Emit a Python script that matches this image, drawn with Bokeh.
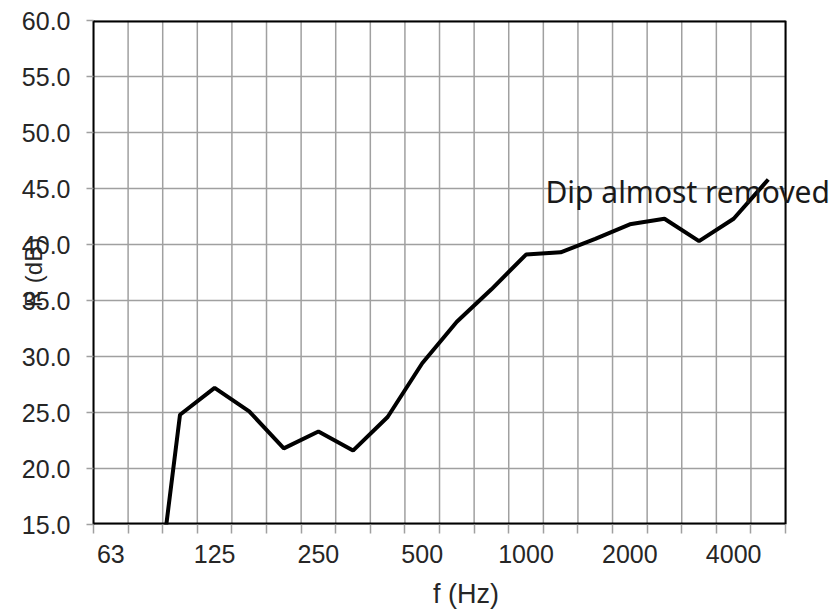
import numpy as np
from bokeh.plotting import figure
from bokeh.models import FixedTicker, Label, Range1d, NumeralTickFormatter, ColumnDataSource
from bokeh.embed import file_html
from bokeh.resources import INLINE

# 1/3-octave bands shown on the x axis
bands = ["63", "80", "100", "125", "160", "200", "250", "315", "400", "500",
         "630", "800", "1000", "1250", "1600", "2000", "2500", "3150", "4000", "5000"]
tick_labels = ["63", "125", "250", "500", "1000", "2000", "4000"]

# measured sound reduction index
freqs = ["80", "100", "125", "160", "200", "250", "315", "400", "500", "630",
         "800", "1000", "1250", "1600", "2000", "2500", "3150", "4000", "5000"]
r_db = [0.0, 24.8, 27.2, 25.1, 21.8, 23.3, 21.6, 24.6, 29.4, 33.1,
        36.0, 39.1, 39.3, 40.5, 41.8, 42.3, 40.3, 42.3, 45.8]

y_ticks = [15, 20, 25, 30, 35, 40, 45, 50, 55, 60]

xi = [bands.index(f) for f in freqs]
src = ColumnDataSource(dict(x=xi, y=r_db))

n = len(bands)
y_lo, y_hi = y_ticks[0], y_ticks[-1]
x_lo, x_hi = -0.5, n - 0.5
# frame runs on to the right canvas edge so the annotation is not clipped
x_extra = 1.53

p = figure(width=838, height=611, output_backend="svg", toolbar_location=None,
           x_range=Range1d(x_lo, x_hi + x_extra), y_range=Range1d(y_lo, y_hi),
           min_border_left=93, min_border_right=0, min_border_top=20, min_border_bottom=87)
p.background_fill_color = "white"
p.border_fill_color = "white"
p.outline_line_color = None
p.xgrid.grid_line_color = None
p.ygrid.grid_line_color = None

edges = [i - 0.5 for i in range(n + 1)]
centers = [bands.index(t) for t in tick_labels]

grid_col = "#a0a0a0"
# grid inside the plotting box only
p.segment(x0=edges, y0=[y_lo] * len(edges), x1=edges, y1=[y_hi] * len(edges),
          line_color=grid_col, line_width=1.5)
p.segment(x0=[x_lo] * len(y_ticks), y0=y_ticks, x1=[x_hi] * len(y_ticks), y1=y_ticks,
          line_color=grid_col, line_width=1.5)
# box border (top, bottom, right)
p.segment(x0=[x_lo, x_lo, x_hi], y0=[y_hi, y_lo, y_lo], x1=[x_hi, x_hi, x_hi], y1=[y_hi, y_lo, y_hi],
          line_color="black", line_width=[4, 4, 2])

p.xaxis.ticker = FixedTicker(ticks=centers, minor_ticks=edges)
p.xaxis.major_label_overrides = {c: t for c, t in zip(centers, tick_labels)}
p.xaxis.major_tick_out = 0
p.xaxis.major_tick_in = 0
p.xaxis.minor_tick_out = 9
p.xaxis.minor_tick_in = 0
p.xaxis.minor_tick_line_color = grid_col
p.xaxis.minor_tick_line_width = 1.5
p.xaxis.major_label_standoff = 11
p.xaxis.axis_line_color = None
p.xaxis.axis_label = "f (Hz)"
p.xaxis.axis_label_standoff = 13
p.xaxis.axis_label_text_font_size = "27px"

p.yaxis.ticker = FixedTicker(ticks=y_ticks)
p.yaxis.formatter = NumeralTickFormatter(format="0.0")
p.yaxis.major_tick_out = 7
p.yaxis.major_tick_in = 0
p.yaxis.minor_tick_line_color = None
p.yaxis.major_tick_line_color = grid_col
p.yaxis.major_tick_line_width = 1.5
p.yaxis.major_label_standoff = 16
p.yaxis.axis_line_color = "black"
p.yaxis.axis_line_width = 2
p.yaxis.axis_label = "R (dB)"
p.yaxis.axis_label_standoff = -28
p.yaxis.axis_label_text_font_size = "24px"

for ax in (p.xaxis, p.yaxis):
    ax.major_label_text_font = "Liberation Sans"
    ax.major_label_text_font_size = "25px"
    ax.major_label_text_color = "#262626"
    ax.axis_label_text_font = "Liberation Sans"
    ax.axis_label_text_font_style = "normal"
    ax.axis_label_text_color = "#262626"

p.line("x", "y", source=src, line_color="black", line_width=4)

p.add_layout(Label(x=12.56, y=44.7, text="Dip almost removed",
                   text_align="left", text_baseline="alphabetic",
                   text_font="Noto Sans", text_font_size="30px", text_color="#1a1a1a"))

open("out.html", "w").write(file_html(p, INLINE))
